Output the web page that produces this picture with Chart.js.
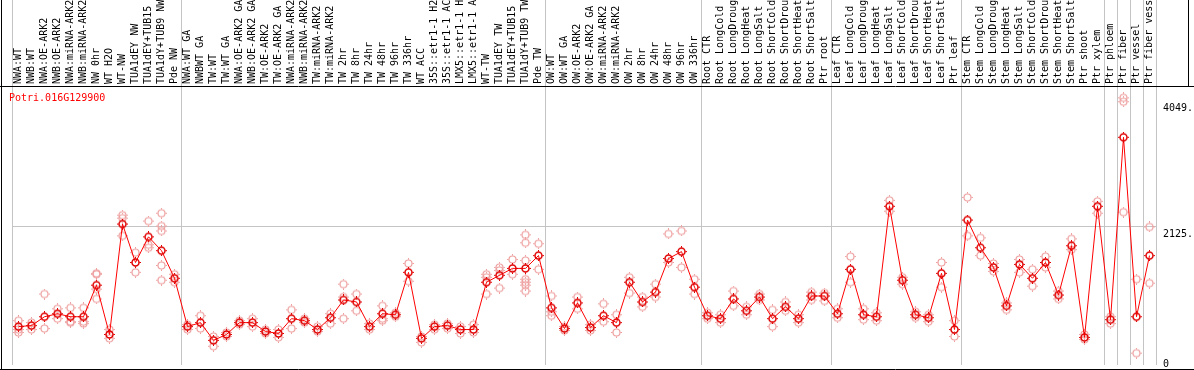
<!DOCTYPE html>
<html>
<head>
<meta charset="utf-8">
<script src="https://cdn.jsdelivr.net/npm/chart.js@4.4.0/dist/chart.umd.min.js"></script>
<style>
  html, body { margin: 0; padding: 0; background: #fff; }
  #wrap { width: 1194px; height: 370px; }
</style>
</head>
<body>
<div id="wrap"><canvas id="chart" width="1194" height="370"></canvas></div>
<script>
// --- DADOS ---
const geneName = 'Potri.016G129900';

const labels = [
  'NWA:WT', 'NWB:WT', 'NWA:OE-ARK2', 'NWB:OE-ARK2', 'NWA:miRNA-ARK2', 'NWB:miRNA-ARK2',
  'NW 0hr', 'WT H2O', 'WT-NW', 'TUA1dEY NW', 'TUA1dEY+TUB15', 'TUA1dY+TUB9 NW', 'Pde NW',
  'NWA:WT GA', 'NWBWT GA', 'TW:WT', 'TW:WT GA', 'NWA:OE-ARK2 GA', 'NWB:OE-ARK2 GA',
  'TW:OE-ARK2', 'TW:OE-ARK2 GA', 'NWA:miRNA-ARK2', 'NWB:miRNA-ARK2', 'TW:miRNA-ARK2', 'TW:miRNA-ARK2',
  'TW 2hr', 'TW 8hr', 'TW 24hr', 'TW 48hr', 'TW 96hr', 'TW 336hr', 'WT ACC',
  '35S::etr1-1 H2', '35S::etr1-1 AC', 'LMX5::etr1-1 H', 'LMX5::etr1-1 A',
  'WT-TW', 'TUA1dEY TW', 'TUA1dEY+TUB15', 'TUA1dY+TUB9 TW', 'Pde TW',
  'OW:WT', 'OW:WT GA', 'OW:OE-ARK2', 'OW:OE-ARK2 GA', 'OW:miRNA-ARK2', 'OW:miRNA-ARK2',
  'OW 2hr', 'OW 8hr', 'OW 24hr', 'OW 48hr', 'OW 96hr', 'OW 336hr',
  'Root CTR', 'Root LongCold', 'Root LongDroug', 'Root LongHeat', 'Root LongSalt',
  'Root ShortCold', 'Root ShortDrou', 'Root ShortHeat', 'Root ShortSalt', 'Ptr root',
  'Leaf CTR', 'Leaf LongCold', 'Leaf LongDroug', 'Leaf LongHeat', 'Leaf LongSalt',
  'Leaf ShortCold', 'Leaf ShortDrou', 'Leaf ShortHeat', 'Leaf ShortSalt', 'Ptr leaf',
  'Stem CTR', 'Stem LongCold', 'Stem LongDroug', 'Stem LongHeat', 'Stem LongSalt',
  'Stem ShortCold', 'Stem ShortDrou', 'Stem ShortHeat', 'Stem ShortSalt',
  'Ptr shoot', 'Ptr xylem', 'Ptr phloem', 'Ptr fiber', 'Ptr vessel', 'Ptr fiber vess'
];

// media de cada amostra
const means = [
  554, 570, 708, 755, 708, 708, 1201, 431, 2156, 1555, 1956, 1740, 1309,
  554, 616, 339, 431, 616, 616, 477, 447, 678, 647, 508, 693, 970, 939, 554, 755, 739,
  1401, 370, 554, 570, 508, 508, 1247, 1355, 1463, 1463, 1663,
  847, 524, 924, 539, 724, 616, 1247, 939, 1093, 1617, 1725, 1170,
  724, 678, 986, 801, 1016, 678, 862, 678, 1032, 1032,
  755, 1448, 739, 708, 2433, 1278, 739, 693, 1386, 508,
  2218, 1786, 1478, 878, 1525, 1309, 1555, 1047, 1817, 385, 2433, 662, 3511, 708, 1663
];

// replicas individuais (circulos claros)
const replicates = [
  [647, 508, 462], [616, 508], [1063, 524], [832, 678], [847, 631, 616], [847, 631, 601],
  [1386, 1371, 1140, 986], [508, 370], [2295, 2248, 1971], [1709, 1401], [2202, 1833, 1786],
  [2325, 2125, 2048, 1509, 1278], [1371, 1247],
  [585, 508], [724, 524], [400, 246], [462, 400], [647, 585], [678, 554], [508, 447],
  [508, 385], [816, 524], [678, 616], [554, 477], [755, 601], [1217, 1016, 678], [1063, 801],
  [601, 508], [878, 678, 647], [770, 708], [1540, 1263], [400, 308], [585, 508], [601, 524],
  [554, 447], [585, 462], [1371, 1324, 1063], [1478, 1432, 1155], [1602, 1371],
  [1987, 1863, 1586, 1294, 1247, 1201, 1109], [1848, 1448],
  [1032, 785, 724], [554, 493], [1016, 832], [585, 493], [909, 631], [739, 462],
  [1324, 1078], [1016, 862], [1217, 1016], [2002, 1555], [2048, 1478], [1294, 1063],
  [770, 678], [739, 616], [1109, 878], [862, 739], [1063, 970], [816, 554], [939, 801],
  [739, 616], [1093, 970], [1078, 955],
  [832, 693], [1648, 1247], [832, 662], [770, 647], [2526, 2356], [1324, 1217], [785, 693],
  [739, 631], [1555, 1170], [647, 400],
  [2572, 1971], [1940, 1663], [1540, 1417], [924, 816], [1602, 1401], [1448, 1186],
  [1648, 1478], [1109, 986], [1925, 1756], [431, 354], [2510, 2325], [708, 601],
  [4127, 4066, 2341], [1294, 139], [2110, 1232]
];

const yTicks = [0, 2125, 4049];
const yTickLabels = ['0', '2125.', '4049.'];
// indices onde comecam os grupos (linhas verticais cinza)
const groupEdges = [0, 13, 41, 53, 63, 73, 84, 85, 86, 87];

// --- ESTILO ---
const GRID = '#c4c4c4';
const MONO = 'DejaVu Sans Mono';

function makeMarker(color, lw) {
  const c = document.createElement('canvas');
  c.width = 11; c.height = 11;
  const g = c.getContext('2d');
  g.strokeStyle = color;
  g.lineWidth = lw;
  g.beginPath();
  g.arc(5.5, 5.5, 3.5, 0, Math.PI * 2);
  g.stroke();
  g.lineWidth = 1;
  g.beginPath();
  g.moveTo(5.5, 0); g.lineTo(5.5, 1.6);
  g.moveTo(5.5, 9.4); g.lineTo(5.5, 11);
  g.moveTo(0, 5.5); g.lineTo(1.6, 5.5);
  g.moveTo(9.4, 5.5); g.lineTo(11, 5.5);
  g.stroke();
  return c;
}
const meanMarker = makeMarker('#e00000', 1.5);
const repMarker = makeMarker('#eea0a0', 1.2);

const maxReps = Math.max(...replicates.map(r => r.length));
const repDatasets = [];
for (let k = 0; k < maxReps; k++) {
  repDatasets.push({
    type: 'line',
    data: replicates.map(r => (r[k] === undefined ? null : r[k])),
    showLine: false,
    pointStyle: repMarker,
    pointRadius: 4,
    order: 1
  });
}

// --- DECORACAO: moldura, nome do gene, rotulos do eixo y ---
const decorations = {
  id: 'decorations',
  afterDraw(chart) {
    const { ctx, scales } = chart;
    const yScale = scales.y;
    ctx.save();
    ctx.font = '10px "' + MONO + '"';
    ctx.textBaseline = 'alphabetic';
    ctx.fillStyle = '#ff0000';
    ctx.fillText(geneName, 9, 101);

    const shift = [2, 8, 6];
    ctx.fillStyle = '#000';
    ctx.textBaseline = 'middle';
    yTicks.forEach((v, i) => {
      ctx.fillText(yTickLabels[i], 1163, yScale.getPixelForValue(v) + shift[i]);
    });

    ctx.strokeStyle = '#000';
    ctx.lineWidth = 1;
    ctx.beginPath();
    ctx.moveTo(0, 86.5); ctx.lineTo(1194, 86.5);
    ctx.moveTo(0, 369.5); ctx.lineTo(1194, 369.5);
    ctx.moveTo(1.5, 0); ctx.lineTo(1.5, 370);
    ctx.moveTo(1188.5, 0); ctx.lineTo(1188.5, 86);
    ctx.stroke();
    ctx.restore();
  }
};

new Chart(document.getElementById('chart'), {
  type: 'line',
  data: {
    labels: labels,
    datasets: [{
      data: means,
      borderColor: '#ff0000',
      borderWidth: 1,
      tension: 0,
      fill: false,
      pointStyle: meanMarker,
      pointRadius: 4,
      order: 0
    }].concat(repDatasets)
  },
  options: {
    responsive: false,
    animation: false,
    devicePixelRatio: 1,
    layout: { padding: { left: 12, right: 0, top: 0, bottom: 1 } },
    plugins: { legend: { display: false }, tooltip: { enabled: false } },
    scales: {
      x: {
        type: 'category',
        position: 'top',
        offset: true,
        border: { display: false },
        grid: {
          offset: true,
          drawTicks: true,
          tickLength: 86,
          lineWidth: 1,
          color: c => (c.index === undefined || groupEdges.includes(c.index)) ? GRID : 'rgba(0,0,0,0)'
        },
        ticks: {
          autoSkip: false,
          minRotation: 90,
          maxRotation: 90,
          padding: -84,
          labelOffset: 12,
          color: '#000',
          font: { family: MONO, size: 10 },
          callback: (v, i) => labels[i]
        },
        afterFit: s => { s.height = 86; }
      },
      y: {
        position: 'right',
        min: -46,
        max: 4312,
        border: { display: false },
        afterBuildTicks: s => { s.ticks = yTicks.map(v => ({ value: v })); },
        grid: {
          drawTicks: false,
          color: c => (c.tick && c.tick.value === 2125) ? GRID : 'rgba(0,0,0,0)'
        },
        ticks: { display: false },
        afterFit: s => { s.width = 38; }
      }
    }
  },
  plugins: [decorations]
});
</script>
</body>
</html>
